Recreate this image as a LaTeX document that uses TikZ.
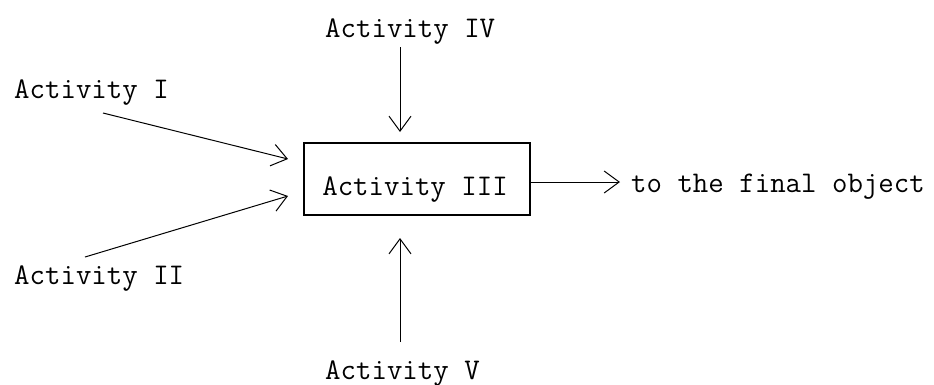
\documentclass[tikz,border=0pt]{standalone}
\usetikzlibrary{arrows.meta}
\begin{document}
\begin{tikzpicture}[x=1pt,y=-1pt,
  lbl/.style={inner sep=0pt,font=\ttfamily\fontsize{30}{32}\selectfont},
  boxnode/.style={draw,line width=1.1pt,minimum width=226pt,minimum height=72pt,inner sep=0pt},
  arr/.style={line width=1pt,-{Straight Barb[length=15pt,width=22pt,line width=1pt]}}]
  \useasboundingbox (0,0) rectangle (934,384);
  % labels
  \node[lbl,anchor=base west] (a1) at (14,98) {Activity I};
  \node[lbl,anchor=base west] (a2) at (14,284) {Activity II};
  \node[lbl,anchor=base west] (a4) at (325,37) {Activity IV};
  \node[lbl,anchor=base west] (a5) at (325,379) {Activity V};
  \node[lbl,anchor=base west] (fin) at (631,192) {to the final object};
  % central box
  \node[boxnode] (a3) at (417,179) {};
  \node[lbl,anchor=base] (t3) at (415,195) {Activity III};
  % connector ends
  \coordinate (s1) at (103,113);
  \coordinate (e1) at (288,159);
  \coordinate (s2) at (85,257);
  \coordinate (e2) at (288,196);
  \coordinate (s4) at (400,47);
  \coordinate (e4) at (400,132);
  \coordinate (s5) at (400,342);
  \coordinate (e5) at (400,238);
  \coordinate (e6) at (620,182);
  % connectors
  \draw[arr] (s1) -- (e1);
  \draw[arr] (s2) -- (e2);
  \draw[arr] (s4) -- (e4);
  \draw[arr] (s5) -- (e5);
  \draw[arr] (a3.east |- e6) -- (e6);
\end{tikzpicture}
\end{document}
